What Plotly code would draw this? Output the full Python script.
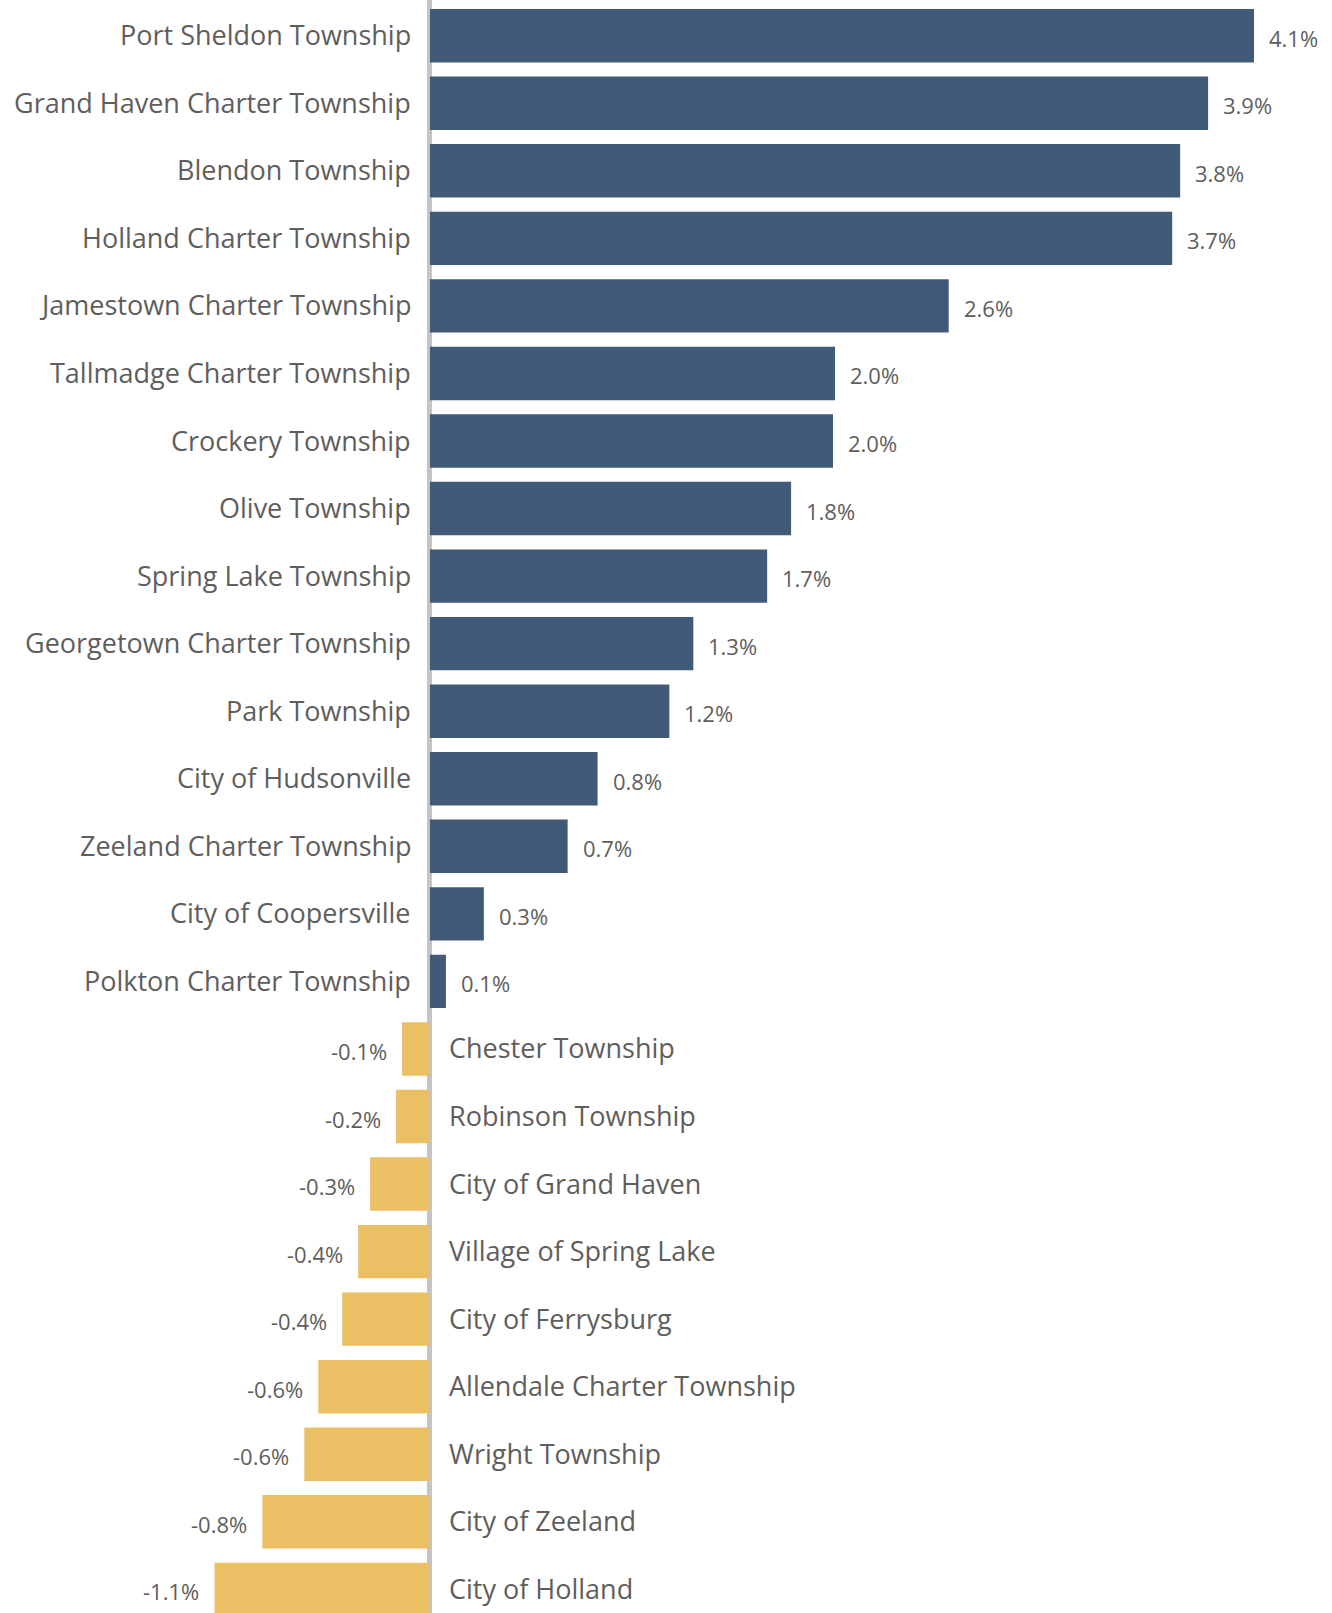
import plotly.graph_objects as go

categories = [
    "Port Sheldon Township", "Grand Haven Charter Township", "Blendon Township",
    "Holland Charter Township", "Jamestown Charter Township", "Tallmadge Charter Township",
    "Crockery Township", "Olive Township", "Spring Lake Township",
    "Georgetown Charter Township", "Park Township", "City of Hudsonville",
    "Zeeland Charter Township", "City of Coopersville", "Polkton Charter Township",
    "Chester Township", "Robinson Township", "City of Grand Haven",
    "Village of Spring Lake", "City of Ferrysburg", "Allendale Charter Township",
    "Wright Township", "City of Zeeland", "City of Holland",
]
values = [
    4.13, 3.90, 3.76, 3.72, 2.60, 2.03, 2.02, 1.81, 1.69, 1.32, 1.20, 0.84,
    0.69, 0.27, 0.08,
    -0.14, -0.17, -0.30, -0.36, -0.44, -0.56, -0.63, -0.84, -1.08,
]
value_labels = [f"{v:.1f}%" for v in values]

POS = "#405A78"
NEG = "#EBBF64"
TXT = "#605E5C"
FONT = "Open Sans, Noto Sans, sans-serif"

colors = [POS if v >= 0 else NEG for v in values]

fig = go.Figure(go.Bar(
    x=values, y=categories, orientation="h",
    marker=dict(color=colors, line=dict(width=0)),
    hoverinfo="skip",
))

ann = []
for c, v, t in zip(categories, values, value_labels):
    if v >= 0:
        ann.append(dict(x=0, y=c, text=c, xanchor="right", xshift=-17, yshift=1,
                        showarrow=False, font=dict(size=27, color=TXT, family=FONT)))
        ann.append(dict(x=v, y=c, text=t, xanchor="left", xshift=13, yshift=-2,
                        showarrow=False, font=dict(size=22, color=TXT, family=FONT)))
    else:
        ann.append(dict(x=0, y=c, text=c, xanchor="left", xshift=17, yshift=1,
                        showarrow=False, font=dict(size=27, color=TXT, family=FONT)))
        ann.append(dict(x=v, y=c, text=t, xanchor="right", xshift=-13, yshift=-2,
                        showarrow=False, font=dict(size=22, color=TXT, family=FONT)))

fig.update_layout(
    width=1332, height=1613,
    margin=dict(l=0, r=0, t=0, b=0, pad=0),
    paper_bgcolor="white", plot_bgcolor="white",
    bargap=0.21,
    showlegend=False,
    annotations=ann,
    font=dict(family=FONT, color=TXT),
)
fig.update_xaxes(range=[-2.155, 4.521], showticklabels=False, showgrid=False,
                 zeroline=True, zerolinecolor="#C4C4C4", zerolinewidth=4.5, fixedrange=True)
fig.update_yaxes(type="category", categoryorder="array", categoryarray=categories,
                 range=[23.35, -0.5285], showticklabels=False, showgrid=False,
                 zeroline=False, fixedrange=True)

fig.write_html("out.html", config={"displayModeBar": False},
               post_script="document.body.style.margin='0';")
